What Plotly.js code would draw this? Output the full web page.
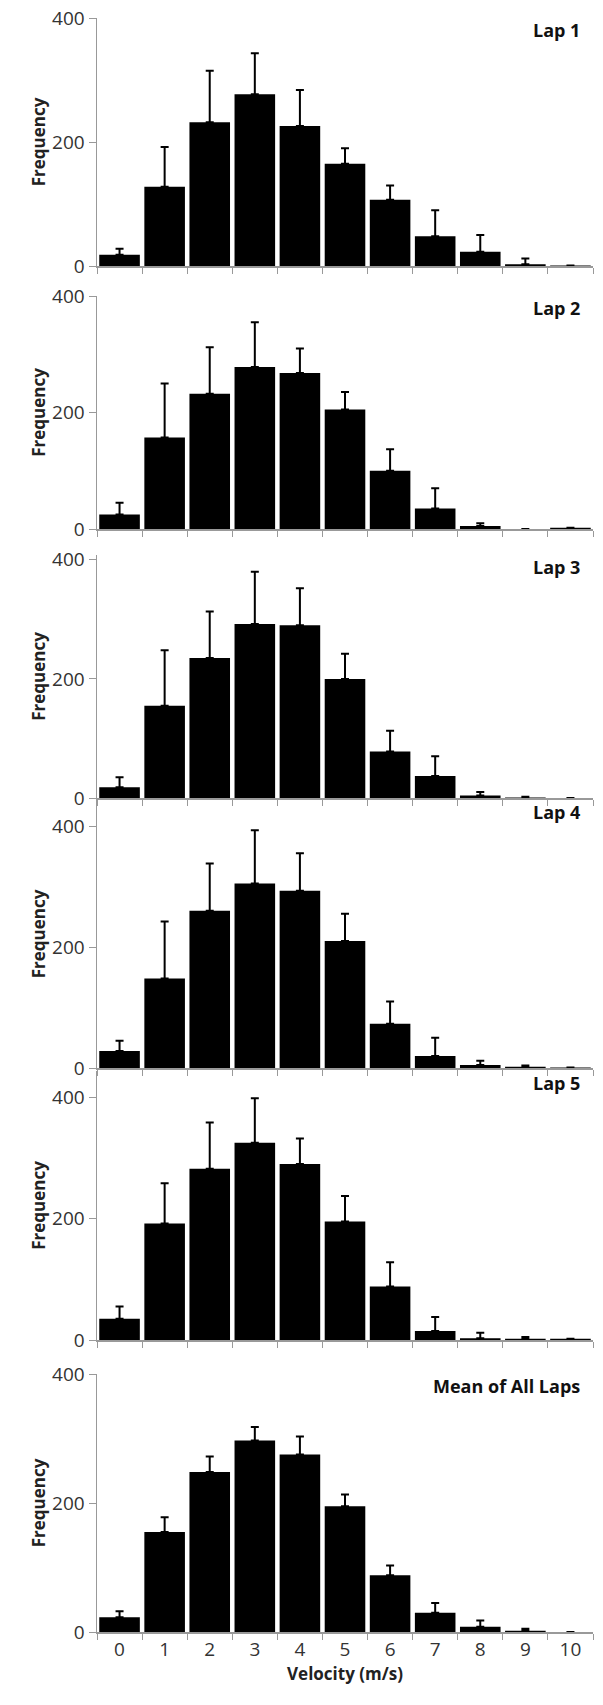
<!DOCTYPE html>
<html><head><meta charset="utf-8">
<script src="https://cdn.plot.ly/plotly-3.0.1.min.js"></script>
<style>body{margin:0;background:#fff}</style></head>
<body><div id="c" style="width:603px;height:1705px"></div>
<script>
const categories = ["0","1","2","3","4","5","6","7","8","9","10"];
const panelTitles = ["Lap 1","Lap 2","Lap 3","Lap 4","Lap 5","Mean of All Laps"];
const lap1 = [18,128,232,277,226,165,107,48,23,3,1];
const lap1Err = [10,64,83,66,58,25,23,42,27,9,0];
const lap2 = [25,157,232,278,268,205,100,35,5,0,2];
const lap2Err = [20,93,80,77,42,30,37,35,5,0,0];
const lap3 = [18,155,235,292,290,200,78,37,4,1,0];
const lap3Err = [17,93,78,88,62,42,35,33,6,1,0];
const lap4 = [28,148,260,305,293,210,73,20,5,2,1];
const lap4Err = [17,94,78,88,62,45,37,30,7,2,0];
const lap5 = [35,192,282,325,290,195,88,15,3,2,2];
const lap5Err = [20,66,76,73,42,42,40,23,9,3,0];
const lapMean = [23,155,248,297,275,195,88,30,8,2,0];
const lapMeanErr = [9,23,24,21,28,18,15,15,10,3,0];

const series = [lap1,lap2,lap3,lap4,lap5,lapMean];
const errs = [lap1Err,lap2Err,lap3Err,lap4Err,lap5Err,lapMeanErr];
const H = 1705;
const px = [[18,266,400],[296,529,400],[555,798,408],[800,1068,443],[1071,1340,443],[1374,1632,400]];
const traces = [], annotations = [];
const layout = {width:603,height:H,margin:{l:0,r:0,t:0,b:0},showlegend:false,
  paper_bgcolor:'#fff',plot_bgcolor:'#fff',bargap:0.1,
  font:{family:'Open Sans, sans-serif',color:'#222'}};
series.forEach((s,i)=>{
  const n = i===0?'':String(i+1);
  traces.push({type:'bar',x:categories,y:s,xaxis:'x'+n,yaxis:'y'+n,
    marker:{color:'#000'},
    error_y:{type:'data',symmetric:false,array:errs[i],arrayminus:errs[i].map(()=>0),
      color:'#000',thickness:2,width:4}});
  const [top,bot,rmax] = px[i];
  const last = i===5;
  layout['xaxis'+n] = {domain:[97/603,593/603],anchor:'y'+n,type:'category',
    showline:true,linecolor:'#999',linewidth:1.5,ticks:'outside',tickson:'boundaries',
    ticklen:6,tickcolor:'#999',showgrid:false,showticklabels:last,
    tickfont:{size:19,color:'#333'},
    title: last?{text:'<b>Velocity (m/s)</b>',font:{size:17,color:'#222'},standoff:2}:{text:''}};
  layout['yaxis'+n] = {domain:[1-bot/H,1-top/H],anchor:'x'+n,range:[0,rmax],
    tickvals:[0,200,400],showline:true,linecolor:'#999',linewidth:1.5,ticks:'outside',
    ticklen:7,tickcolor:'#999',showgrid:false,zeroline:false,
    tickfont:{size:19,color:'#333'},
    title:{text:'<b>Frequency</b>',font:{size:17,color:'#222'},standoff:2}};
  annotations.push({xref:'paper',yref:'paper',x:582/603,y:1-(top+12)/H,xanchor:'right',yanchor:'middle',
    text:'<b>'+panelTitles[i]+'</b>',showarrow:false,font:{size:18,color:'#111'}});
});
layout.annotations = annotations;
Plotly.newPlot('c',traces,layout,{displayModeBar:false,staticPlot:true});
</script></body></html>
